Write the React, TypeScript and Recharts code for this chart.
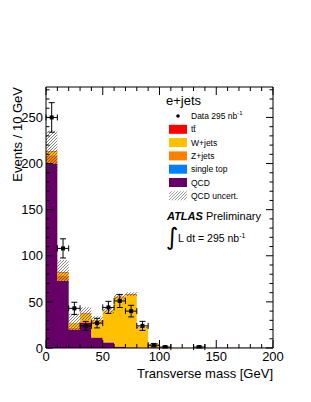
import React from 'react';
import { ComposedChart, Area, Scatter, XAxis, YAxis, ErrorBar } from 'recharts';

// ---- data (bins of 10 GeV from 0 to 200) ----
const binEdges = [0, 10, 20, 30, 40, 50, 60, 70, 80, 90, 100, 110, 120, 130, 140, 150, 160, 170, 180, 190, 200];
const qcd = [200, 73, 20, 27, 11, 6, 1, 0.5, 0, 0, 0, 0, 0, 0, 0, 0.3, 0.3, 0.3, 0.3, 0.3];
const singleTop = [0, 0, 0, 0, 0, 0, 0, 0, 0, 0, 0, 0, 0, 0, 0, 0, 0, 0, 0, 0];
const zjets = [9, 5, 2, 2, 1, 1, 1, 0.5, 0.3, 1, 0.4, 0.4, 0.4, 0.4, 0.4, 0, 0, 0, 0, 0];
const wjets = [4, 4, 5, 8, 18, 33, 53, 57, 22, 2.5, 0.2, 0, 0, 0, 0, 0, 0, 0, 0, 0];
const ttbar = [0.5, 0.3, 0.2, 0.3, 0.3, 0.5, 0.6, 0.5, 0.3, 0.2, 0, 0, 0, 0, 0, 0, 0, 0, 0, 0];
const qcdUncert = [22, 13, 10, 7, 4, 3, 3, 2, 1, 2, 0, 0, 0, 0, 0, 0, 0, 0, 0, 0];

const dataX = [5, 15, 25, 35, 45, 55, 65, 75, 85, 95, 105, 135];
const dataY = [250, 108, 43, 24, 27, 44, 51, 40, 24, 3, 1, 1];
const dataErr = [16, 10.4, 6.6, 4.9, 5.2, 6.6, 7.1, 6.3, 4.9, 1.7, 1, 1];
const dataXErr = [5, 5, 5, 5, 5, 5, 5, 5, 5, 5, 5, 5];

const xTicks = [0, 10, 20, 30, 40, 50, 60, 70, 80, 90, 100, 110, 120, 130, 140, 150, 160, 170, 180, 190, 200];
const yTicks = [0, 10, 20, 30, 40, 50, 60, 70, 80, 90, 100, 110, 120, 130, 140, 150, 160, 170, 180, 190, 200, 210, 220, 230, 240, 250, 260, 270, 280];

const nBins = qcd.length;
const histRows = binEdges.map((x, i) => {
  const j = Math.min(i, nBins - 1);
  const total = qcd[j] + singleTop[j] + zjets[j] + wjets[j] + ttbar[j];
  return {
    x,
    qcd: qcd[j],
    singleTop: singleTop[j],
    zjets: zjets[j],
    wjets: wjets[j],
    ttbar: ttbar[j],
    unc: [total - qcdUncert[j], total + qcdUncert[j]],
  };
});

const points = dataX.map((x, i) => ({ x, y: dataY[i], ey: dataErr[i], ex: dataXErr[i] }));

const FONT = '"Liberation Sans", Arial, Helvetica, sans-serif';
const TM = 3;

const C_QCD = '#660066';
const C_ST = '#0080ff';
const C_Z = '#ff7f00';
const C_W = '#ffc000';
const C_TT = '#ff0000';

const isMajor = (v: number) => v % 50 === 0;

const LeftTick = (props: any) => {
  const { x, y, payload } = props;
  const ax = x + TM;
  const major = isMajor(payload.value);
  return (
    <g>
      <line x1={ax} x2={ax + (major ? 7 : 3.5)} y1={y} y2={y} stroke="#000" strokeWidth={1} />
      {major && (
        <text x={x} y={y} dy="0.36em" textAnchor="end" fontSize={13} fontFamily={FONT} fill="#000">
          {payload.value}
        </text>
      )}
    </g>
  );
};

const RightTick = (props: any) => {
  const { x, y, payload } = props;
  const ax = x - TM;
  const major = isMajor(payload.value);
  return <line x1={ax} x2={ax - (major ? 7 : 3.5)} y1={y} y2={y} stroke="#000" strokeWidth={1} />;
};

const BottomTick = (props: any) => {
  const { x, y, payload } = props;
  const ay = y - TM;
  const major = isMajor(payload.value);
  return (
    <g>
      <line x1={x} x2={x} y1={ay} y2={ay - (major ? 8 : 4)} stroke="#000" strokeWidth={1} />
      {major && (
        <text x={x} y={y} dy="0.78em" textAnchor="middle" fontSize={13} fontFamily={FONT} fill="#000">
          {payload.value}
        </text>
      )}
    </g>
  );
};

const TopTick = (props: any) => {
  const { x, y, payload } = props;
  const ay = y + TM;
  const major = isMajor(payload.value);
  return <line x1={x} x2={x} y1={ay} y2={ay + (major ? 8 : 4)} stroke="#000" strokeWidth={1} />;
};

const DataMarker = (props: any) => {
  const { cx, cy } = props;
  if (cx == null || cy == null) return null;
  return <rect x={cx - 2} y={cy - 2} width={4} height={4} fill="#000" />;
};

const legendRows = [
  { label: 'tt\u0304', color: C_TT },
  { label: 'W+jets', color: C_W },
  { label: 'Z+jets', color: C_Z },
  { label: 'single top', color: C_ST },
  { label: 'QCD', color: C_QCD },
];

const Overlay = () => {
  const rowY0 = 116;
  const step = 13.3;
  const fs = 8.5;
  return (
    <svg width={311} height={402} style={{ position: 'absolute', left: 0, top: 0, pointerEvents: 'none' }}>
      <defs>
        <pattern id="hatchL" patternUnits="userSpaceOnUse" width="3" height="3">
          <path d="M-1,1 l2,-2 M0,3 l3,-3 M2,4 l2,-2" stroke="#555" strokeWidth="0.6" />
        </pattern>
      </defs>
      <g fontFamily={FONT} fill="#000">
        <text x={166} y={100} dominantBaseline="central" fontSize={13}>e+jets</text>
        <circle cx={178} cy={rowY0} r={1.8} fill="#000" />
        <text x={191} y={rowY0} dominantBaseline="central" fontSize={fs}>
          Data 295 nb<tspan dy={-3} fontSize={6}>-1</tspan>
        </text>
        {legendRows.map((r, i) => {
          const cy = rowY0 + step * (i + 1);
          return (
            <g key={r.label}>
              <rect x={169} y={cy - 4.5} width={18} height={9} fill={r.color} />
              <text x={191} y={cy} dominantBaseline="central" fontSize={fs}>{r.label}</text>
            </g>
          );
        })}
        <rect x={169} y={rowY0 + step * 6 - 4.5} width={18} height={9} fill="url(#hatchL)" />
        <text x={191} y={rowY0 + step * 6} dominantBaseline="central" fontSize={fs}>QCD uncert.</text>
        <text x={167} y={216} dominantBaseline="central" fontSize={11}>
          <tspan fontWeight="bold" fontStyle="italic">ATLAS</tspan> Preliminary
        </text>
        <text x={166} y={245} fontSize={24} fontFamily="DejaVu Sans">∫</text>
        <text x={178} y={238} dominantBaseline="central" fontSize={10.5}>
          L dt = 295 nb<tspan dy={-3.5} fontSize={7}>-1</tspan>
        </text>
      </g>
    </svg>
  );
};

export default function App() {
  return (
    <div style={{ position: 'absolute', left: 0, top: 0, width: 311, height: 402, background: '#fff' }}>
      <ComposedChart
        width={311}
        height={402}
        data={histRows}
        margin={{ top: 0, right: 0, bottom: 0, left: 0 }}
      >
        <defs>
          <pattern id="hatch" patternUnits="userSpaceOnUse" width="3" height="3">
            <path d="M-1,1 l2,-2 M0,3 l3,-3 M2,4 l2,-2" stroke="#333" strokeWidth="0.6" />
          </pattern>
        </defs>
        <Area dataKey="qcd" stackId="s" type="stepAfter" fill={C_QCD} fillOpacity={1} stroke="none" isAnimationActive={false} />
        <Area dataKey="singleTop" stackId="s" type="stepAfter" fill={C_ST} fillOpacity={1} stroke="none" isAnimationActive={false} />
        <Area dataKey="zjets" stackId="s" type="stepAfter" fill={C_Z} fillOpacity={1} stroke="none" isAnimationActive={false} />
        <Area dataKey="wjets" stackId="s" type="stepAfter" fill={C_W} fillOpacity={1} stroke="none" isAnimationActive={false} />
        <Area dataKey="ttbar" stackId="s" type="stepAfter" fill={C_TT} fillOpacity={1} stroke="none" isAnimationActive={false} />
        <Area dataKey="unc" type="stepAfter" fill="url(#hatch)" fillOpacity={1} stroke="none" isAnimationActive={false} />
        <Scatter data={points} dataKey="y" shape={DataMarker} isAnimationActive={false}>
          <ErrorBar dataKey="ey" direction="y" width={3} stroke="#000" strokeWidth={1} isAnimationActive={false} />
          <ErrorBar dataKey="ex" direction="x" width={3} stroke="#000" strokeWidth={1} isAnimationActive={false} />
        </Scatter>
        <XAxis
          dataKey="x"
          type="number"
          domain={[0, 200]}
          ticks={xTicks}
          interval={0}
          height={54}
          tickSize={0}
          tickMargin={TM}
          tick={BottomTick}
          axisLine={{ stroke: '#000' }}
          allowDataOverflow
          label={{
            content: (p: any) => {
              const vb = p.viewBox;
              return (
                <text x={vb.x + vb.width} y={vb.y + 30} textAnchor="end" fontSize={13} fontFamily={FONT} fill="#000">
                  Transverse mass [GeV]
                </text>
              );
            },
          }}
        />
        <XAxis
          xAxisId="top"
          orientation="top"
          dataKey="x"
          type="number"
          domain={[0, 200]}
          ticks={xTicks}
          interval={0}
          height={87}
          tickSize={0}
          tickMargin={TM}
          tick={TopTick}
          axisLine={{ stroke: '#000' }}
          allowDataOverflow
        />
        <YAxis
          type="number"
          domain={[0, 283]}
          ticks={yTicks}
          interval={0}
          width={46}
          tickSize={0}
          tickMargin={TM}
          tick={LeftTick}
          axisLine={{ stroke: '#000' }}
          allowDataOverflow
          label={{
            content: (p: any) => {
              const vb = p.viewBox;
              const tx = 22;
              const ty = vb.y;
              return (
                <text x={tx} y={ty} transform={`rotate(-90 ${tx} ${ty})`} textAnchor="end" fontSize={13} fontFamily={FONT} fill="#000">
                  Events / 10 GeV
                </text>
              );
            },
          }}
        />
        <YAxis
          yAxisId="right"
          orientation="right"
          type="number"
          domain={[0, 283]}
          ticks={yTicks}
          interval={0}
          width={38}
          tickSize={0}
          tickMargin={TM}
          tick={RightTick}
          axisLine={{ stroke: '#000' }}
          allowDataOverflow
        />
      </ComposedChart>
      <Overlay />
    </div>
  );
}
